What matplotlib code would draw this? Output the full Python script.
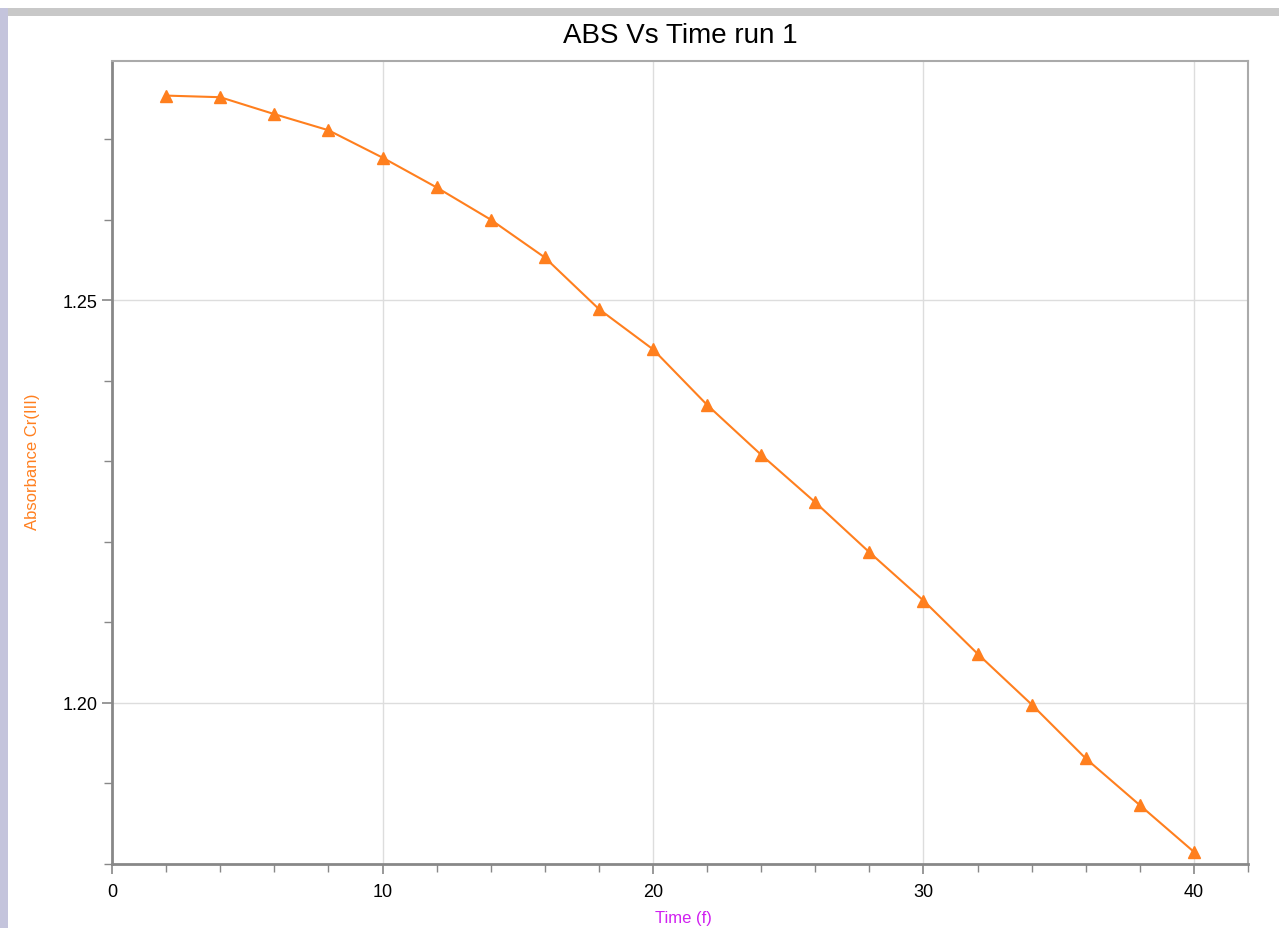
import numpy as np
import matplotlib
matplotlib.use("Agg")
import matplotlib.pyplot as plt
from matplotlib.ticker import MultipleLocator, FormatStrFormatter
from matplotlib.patches import Rectangle

# data
time = [2, 4, 6, 8, 10, 12, 14, 16, 18, 20, 22, 24, 26, 28, 30, 32, 34, 36, 38, 40]
absorbance = [1.2754, 1.2752, 1.2731, 1.2711, 1.2677, 1.2640, 1.2600, 1.2553, 1.2489, 1.2439,
              1.2370, 1.2308, 1.2249, 1.2187, 1.2127, 1.2061, 1.1998, 1.1931, 1.1873, 1.1815]

orange = "#ff7f1e"

plt.rcParams['font.family'] = ['Liberation Sans', 'DejaVu Sans']

fig = plt.figure(figsize=(12.79, 9.29), dpi=100)
ax = fig.add_axes([0.0876, 0.0689, 0.8882, 0.8644])

# window-frame look from the screenshot
fig.patches.append(Rectangle((0, 0.982), 1, 0.008, transform=fig.transFigure,
                             facecolor="#c8c8c8", edgecolor="none"))
fig.patches.append(Rectangle((0, 0), 0.006, 0.99, transform=fig.transFigure,
                             facecolor="#c4c4dc", edgecolor="none"))

ax.plot(time, absorbance, color=orange, lw=1.5, marker="^", markersize=9,
        markerfacecolor=orange, markeredgecolor=orange, zorder=3)

ax.set_xlim(0, 42)
ax.set_ylim(1.18, 1.2797)
ax.xaxis.set_major_locator(MultipleLocator(10))
ax.xaxis.set_minor_locator(MultipleLocator(2))
ax.yaxis.set_major_locator(MultipleLocator(0.05))
ax.yaxis.set_minor_locator(MultipleLocator(0.01))
ax.yaxis.set_major_formatter(FormatStrFormatter("%.2f"))

ax.grid(True, which="major", color="#dddddd", lw=1)
ax.tick_params(which="both", color="#888888", labelsize=13, direction="out")
ax.tick_params(which="major", length=7, width=1.2)
ax.tick_params(axis="x", which="major", pad=7)
ax.tick_params(which="minor", length=6, width=1)

for side in ["left", "bottom"]:
    ax.spines[side].set_color("#888888")
    ax.spines[side].set_linewidth(2)
for side in ["top", "right"]:
    ax.spines[side].set_color("#aaaaaa")
    ax.spines[side].set_linewidth(1.5)

ax.set_title("ABS Vs Time run 1", fontsize=20, pad=14)
ax.set_xlabel("Time (f)", color="#d020f0", fontsize=12)
ax.xaxis.set_label_coords(0.503, -0.057)
ax.set_ylabel("Absorbance Cr(III)", color=orange, fontsize=12)
ax.yaxis.set_label_coords(-0.063, 0.502)

fig.savefig("out.png", dpi=100)
